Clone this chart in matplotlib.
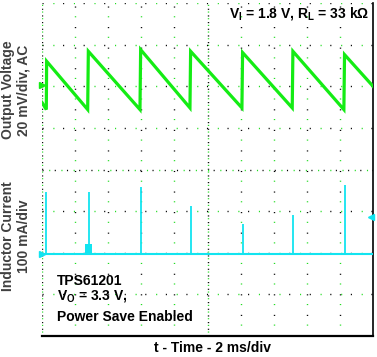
import matplotlib
matplotlib.use('Agg')
import matplotlib.pyplot as plt

plt.rcParams['font.family'] = ['Liberation Sans', 'DejaVu Sans']
plt.rcParams['mathtext.fontset'] = 'custom'
plt.rcParams['mathtext.bf'] = 'Liberation Sans:bold'
plt.rcParams['mathtext.rm'] = 'Liberation Sans:bold'

# output voltage (AC, mV) vs time (ms) - sawtooth
v_time = [0.0, 0.26, 0.28, 2.76, 2.80, 5.92, 5.96, 8.94, 8.98, 12.08, 12.12,
          15.12, 15.16, 18.24, 18.28, 20.0]
v_mv = [-8.2, -11.6, 11.6, -11.6, 16.4, -11.6, 17.2, -10.8, 16.4, -10.8, 15.8,
        -10.8, 16.4, -11.6, 14.8, -0.4]

# inductor current spikes (ms, mA)
spike_time = [0.26, 2.86, 5.96, 9.02, 12.16, 15.18, 18.30]
spike_ma = [149, 149, 161, 115, 72, 92, 164]
# small current step near the 2nd pulse
step_time = [2.60, 3.02]
step_ma = 24

ms_per_div = 2
mv_per_div = 20
ma_per_div = 100
v_offset = 2.02      # channel 1 ground, divisions
i_offset = -2.02     # channel 2 ground, divisions
trig_level = -1.15

green = '#14ec14'
cyan = '#12e4f0'

fig = plt.figure(figsize=(3.77, 3.57), dpi=100)
ax = fig.add_axes([42/377, 21/357, 331/377, 333/357])
ax.set_xlim(0, 10)
ax.set_ylim(-4, 4)
ax.set_xticks([])
ax.set_yticks([])
for s in ['top', 'left']:
    ax.spines[s].set_visible(False)
ax.spines['bottom'].set_linewidth(1.6)
ax.spines['right'].set_linewidth(1.2)

# scope graticule: sparse black / green dots
for gx in range(0, 10):
    dense = gx in (0, 5)
    gap = 4 if dense else 14
    ax.axvline(gx, color='black', lw=1.0, linestyle=(0, (0.8, gap)), zorder=1)
    ax.axvline(gx, color='#22dd22', lw=1.0, linestyle=(gap / 2, (0.8, gap)), zorder=1)
for gy in range(-4, 5):
    dense = gy == 0
    gap = 8 if dense else 14
    ax.axhline(gy, color='black', lw=1.0, linestyle=(0, (0.8, gap)), zorder=1)
    ax.axhline(gy, color='#22dd22', lw=1.0, linestyle=(gap / 2, (0.8, gap)), zorder=1)

# voltage trace
vx = [t / ms_per_div for t in v_time]
vy = [v / mv_per_div + v_offset for v in v_mv]
ax.plot(vx, vy, color=green, lw=2.3, solid_joinstyle='miter', zorder=3)

# current trace: baseline + spikes
ax.axhline(i_offset, color=cyan, lw=1.5, zorder=3)
sx = [t / ms_per_div for t in spike_time]
sy = [m / ma_per_div + i_offset for m in spike_ma]
ax.vlines(sx, i_offset, sy, color=cyan, lw=1.3, zorder=3)
ax.fill_between([t / ms_per_div for t in step_time], i_offset,
                step_ma / ma_per_div + i_offset, color=cyan, lw=0, zorder=3)

# channel markers
ax.plot(0, v_offset, marker='>', ms=4, color=green, clip_on=False, zorder=4)
ax.plot(0, i_offset, marker='>', ms=5, color=cyan, clip_on=False, zorder=4)
ax.plot(9.95, trig_level, marker='<', ms=5, color=cyan, clip_on=False, zorder=4)

# annotations
fig.text(369/377, 1 - 18/357, r'V$_\mathbf{I}$ = 1.8 V, R$_\mathbf{L}$ = 33 k$\Omega$',
         ha='right', va='baseline', fontsize=10, fontweight='bold')
fig.text(57/377, 1 - 285/357, 'TPS61201', ha='left', va='baseline',
         fontsize=10, fontweight='bold')
fig.text(57/377, 1 - 299/357, r'V$_\mathbf{O}$ = 3.3 V,', ha='left', va='baseline',
         fontsize=10, fontweight='bold')
fig.text(57/377, 1 - 321/357, 'Power Save Enabled', ha='left', va='baseline',
         fontsize=10, fontweight='bold')

fig.text(16/377, 1 - 90/357, 'Output Voltage\n20 mV/div, AC', rotation=90,
         ha='center', va='center', fontsize=10, fontweight='bold',
         color='#404040', linespacing=1.1)
fig.text(16/377, 1 - 236/357, 'Inductor Current\n100 mA/div', rotation=90,
         ha='center', va='center', fontsize=10, fontweight='bold',
         color='#404040', linespacing=1.1)
fig.text(212/377, 1 - 352/357, 't - Time - 2 ms/div', ha='center', va='baseline',
         fontsize=10, fontweight='bold')

fig.savefig('out.png', dpi=100)
